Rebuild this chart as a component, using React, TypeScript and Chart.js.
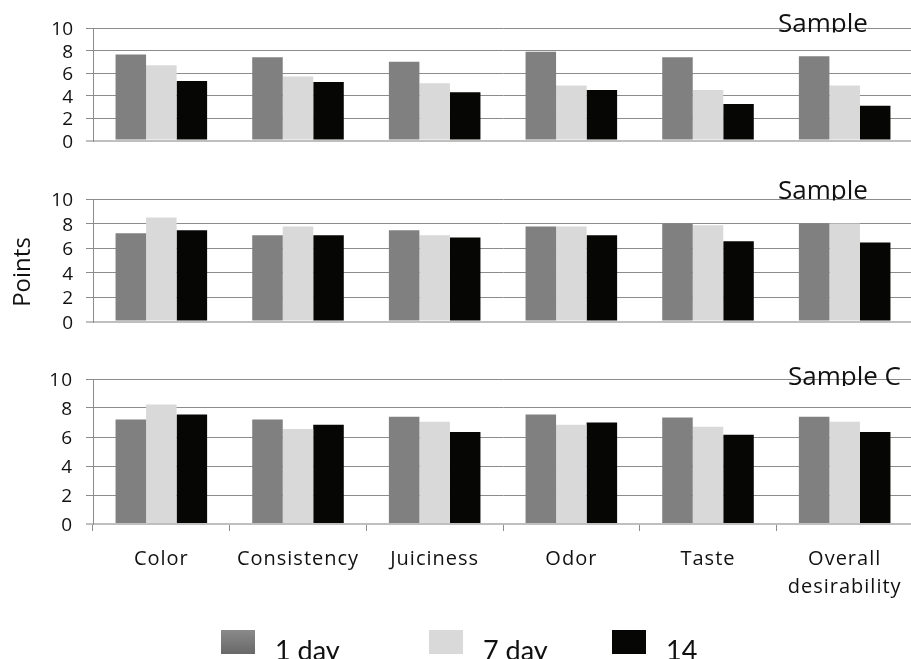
import { useEffect, useRef } from 'react';
import { Chart, registerables } from 'chart.js';

Chart.register(...registerables);

// Sensory attributes on the shared category axis
const categories: (string | string[])[] = ['Color', 'Consistency', 'Juiciness', 'Odor', 'Taste', ['Overall', 'desirability']];
const seriesNames = ['1 day', '7 day', '14'];
const seriesColors = ['#808080', '#d9d9d9', '#060604'];
const panelTitles = ['Sample', 'Sample', 'Sample C'];
const yTicks = [0, 2, 4, 6, 8, 10];
const axisTitle = 'Points';

// Sample A scores
const sampleA1 = [7.65, 7.4, 7.0, 7.9, 7.4, 7.5];
const sampleA7 = [6.7, 5.7, 5.1, 4.9, 4.5, 4.9];
const sampleA14 = [5.3, 5.2, 4.3, 4.5, 3.25, 3.1];

// Sample B scores
const sampleB1 = [7.2, 7.05, 7.45, 7.75, 8.0, 8.0];
const sampleB7 = [8.5, 7.75, 7.05, 7.75, 7.85, 8.0];
const sampleB14 = [7.45, 7.05, 6.85, 7.05, 6.55, 6.45];

// Sample C scores
const sampleC1 = [7.2, 7.2, 7.4, 7.55, 7.35, 7.4];
const sampleC7 = [8.25, 6.55, 7.05, 6.85, 6.7, 7.05];
const sampleC14 = [7.55, 6.85, 6.35, 7.0, 6.15, 6.35];

const FONT = "'Open Sans', sans-serif";
const LEGEND_FONT = "Lato, 'Open Sans', sans-serif";
const GRID = '#8c8c8c';
const BASE = '#bfbfbf';
const INK = '#111111';

function titlePlugin(text: string, x: number, baseline: number, clipBottom: number) {
  return {
    id: 'panelTitle',
    afterDraw(chart: any) {
      const ctx = chart.ctx as CanvasRenderingContext2D;
      ctx.save();
      ctx.beginPath();
      ctx.rect(0, 0, chart.width, clipBottom);
      ctx.clip();
      (ctx as any).letterSpacing = '0px';
      ctx.font = `26px ${FONT}`;
      ctx.fillStyle = INK;
      ctx.textAlign = 'left';
      ctx.textBaseline = 'alphabetic';
      ctx.fillText(text, x, baseline);
      ctx.restore();
    },
  };
}

const pointsTitlePlugin = {
  id: 'pointsTitle',
  afterDraw(chart: any) {
    const ctx = chart.ctx as CanvasRenderingContext2D;
    ctx.save();
    ctx.translate(29.5, 102);
    ctx.rotate(-Math.PI / 2);
    ctx.font = `24px ${FONT}`;
    ctx.fillStyle = INK;
    ctx.textAlign = 'center';
    ctx.textBaseline = 'alphabetic';
    ctx.fillText(axisTitle, 0, 0);
    ctx.restore();
  },
};

const letterSpacingPlugin = {
  id: 'tickTracking',
  beforeDraw(chart: any) {
    (chart.ctx as any).letterSpacing = '1px';
  },
};

const legendPlugin = {
  id: 'dayLegend',
  afterDraw(chart: any) {
    const ctx = chart.ctx as CanvasRenderingContext2D;
    const boxX = [221, 429, 612];
    const boxY = 280;
    ctx.save();
    (ctx as any).letterSpacing = '0px';
    chart.data.datasets.forEach((ds: any, i: number) => {
      const x = boxX[i];
      let fill: string | CanvasGradient = ds.backgroundColor;
      if (i === 0) {
        const g = ctx.createLinearGradient(0, boxY, 0, boxY + 24);
        g.addColorStop(0, '#8a8a8a');
        g.addColorStop(1, '#686868');
        fill = g;
      }
      ctx.fillStyle = fill;
      ctx.fillRect(x, boxY, 34, 24);
      ctx.fillStyle = INK;
      ctx.font = `27px ${LEGEND_FONT}`;
      ctx.textAlign = 'left';
      ctx.textBaseline = 'alphabetic';
      ctx.fillText(ds.label, x + 54, 309.5);
    });
    ctx.restore();
  },
};

function buildConfig(series: number[][], showX: boolean, padTop: number, padBottom: number, extraPlugins: any[]): any {
  return {
    type: 'bar',
    data: {
      labels: categories,
      datasets: series.map((d, i) => ({
        label: seriesNames[i],
        data: d,
        backgroundColor: seriesColors[i],
        borderWidth: 0,
        barPercentage: 1,
        categoryPercentage: 0.67,
      })),
    },
    options: {
      animation: false,
      responsive: false,
      devicePixelRatio: 1,
      layout: { padding: { top: padTop, bottom: padBottom, left: 0, right: 0 } },
      plugins: {
        legend: { display: false },
        tooltip: { enabled: false },
        title: { display: false },
      },
      scales: {
        x: {
          display: showX,
          offset: true,
          grid: { offset: true, drawOnChartArea: false, drawTicks: true, tickLength: 7, color: GRID, lineWidth: 1 },
          border: { display: true, color: BASE, width: 2 },
          ticks: {
            maxRotation: 0,
            minRotation: 0,
            autoSkip: false,
            padding: 14,
            color: INK,
            font: { family: FONT, size: 20, lineHeight: 1.4 },
          },
          afterFit: (s: any) => {
            if (showX) s.height = 135;
          },
        },
        y: {
          min: 0,
          max: 10,
          afterBuildTicks: (s: any) => {
            s.ticks = yTicks.map((v) => ({ value: v }));
          },
          ticks: {
            autoSkip: false,
            padding: 13,
            labelOffset: 2,
            color: INK,
            font: { family: FONT, size: 19 },
          },
          grid: {
            color: (c: any) => (c.tick && c.tick.value === 0 ? BASE : GRID),
            lineWidth: (c: any) => (c.tick && c.tick.value === 0 ? 2 : 1),
            tickLength: 7,
            drawTicks: true,
          },
          border: { display: true, color: GRID, width: 1 },
          afterFit: (s: any) => {
            s.width = 93;
          },
        },
      },
    },
    plugins: extraPlugins,
  };
}

export default function App() {
  const refA = useRef<HTMLCanvasElement>(null);
  const refB = useRef<HTMLCanvasElement>(null);
  const refC = useRef<HTMLCanvasElement>(null);

  useEffect(() => {
    const charts = [
      new Chart(
        refA.current!,
        buildConfig([sampleA1, sampleA7, sampleA14], false, 28, 14, [titlePlugin(panelTitles[0], 778, 31.5, 32.5)])
      ),
      new Chart(
        refB.current!,
        buildConfig([sampleB1, sampleB7, sampleB14], false, 29, 14, [
          titlePlugin(panelTitles[1], 778, 28.5, 30.5),
          pointsTitlePlugin,
        ])
      ),
      new Chart(
        refC.current!,
        buildConfig([sampleC1, sampleC7, sampleC14], true, 29, 0, [
          letterSpacingPlugin,
          titlePlugin(panelTitles[2], 788, 35, 36),
          legendPlugin,
        ])
      ),
    ];
    return () => charts.forEach((c) => c.destroy());
  }, []);

  return (
    <div
      style={{
        position: 'absolute',
        left: 0,
        top: 0,
        width: 911,
        height: 659,
        overflow: 'hidden',
        background: '#ffffff',
      }}
    >
      <canvas ref={refA} width={913} height={165} style={{ position: 'absolute', left: 0, top: 0 }} />
      <canvas ref={refB} width={913} height={176} style={{ position: 'absolute', left: 0, top: 170 }} />
      <canvas ref={refC} width={913} height={309} style={{ position: 'absolute', left: 0, top: 350 }} />
    </div>
  );
}
